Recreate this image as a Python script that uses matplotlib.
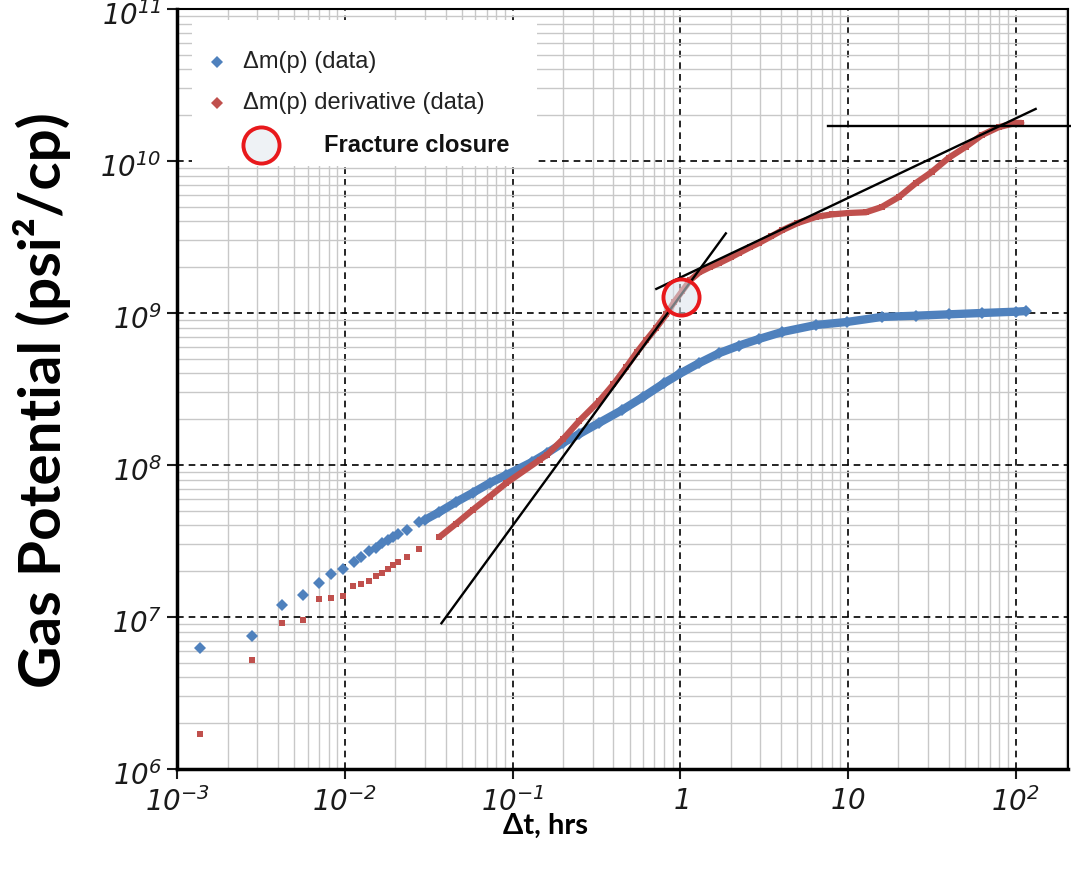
import matplotlib
matplotlib.use("Agg")  # headless
import matplotlib.pyplot as plt
import matplotlib.transforms as mtransforms
import numpy as np
from matplotlib.patches import Rectangle
from matplotlib.ticker import FixedFormatter, FixedLocator, LogLocator, NullFormatter

# --- data -----------------------------------------------------------------
# delta m(p) (blue diamonds)
dm_t = [1.37e-3, 2.78e-3, 4.2e-3, 5.6e-3, 7.0e-3, 8.3e-3, 9.7e-3, 1.13e-2,
        1.25e-2, 1.39e-2, 1.53e-2, 1.67e-2, 1.81e-2, 1.95e-2, 2.09e-2, 2.34e-2,
        2.78e-2, 3.0e-2, 3.67e-2, 4.6e-2, 5.78e-2, 7.3e-2, 9.2e-2, 0.1315,
        0.161, 0.2, 0.25, 0.33, 0.45, 0.6, 0.8, 1.0, 1.3, 1.71, 2.24, 2.95,
        4.05, 6.45, 9.86, 15.9, 25.4, 39.9, 62.8, 100.0, 115.0]
dm_val = [6.26e6, 7.5e6, 1.2e7, 1.40e7, 1.67e7, 1.91e7, 2.07e7, 2.3e7,
          2.5e7, 2.7e7, 2.85e7, 3.05e7, 3.2e7, 3.35e7, 3.5e7, 3.74e7,
          4.2e7, 4.35e7, 4.91e7, 5.7e7, 6.55e7, 7.6e7, 8.6e7, 1.05e8,
          1.2e8, 1.40e8, 1.6e8, 1.9e8, 2.3e8, 2.8e8, 3.45e8, 4.0e8, 4.69e8,
          5.45e8, 6.1e8, 6.75e8, 7.5e8, 8.34e8, 8.73e8, 9.42e8, 9.6e8,
          9.8e8, 1.0e9, 1.02e9, 1.03e9]

# delta m(p) derivative (red)
der_t = [1.38e-3, 2.78e-3, 4.24e-3, 5.6e-3, 7.0e-3, 8.3e-3, 9.7e-3, 1.12e-2,
         1.25e-2, 1.39e-2, 1.53e-2, 1.67e-2, 1.81e-2, 1.95e-2, 2.09e-2,
         2.34e-2, 2.78e-2, 3.67e-2, 4.6e-2, 5.78e-2, 7.3e-2, 9.2e-2, 0.145,
         0.161, 0.2, 0.25, 0.33, 0.4, 0.477, 0.55, 0.628, 0.72, 0.826, 0.92,
         1.03, 1.15, 1.3, 1.5, 1.71, 2.0, 2.24, 2.6, 2.95, 3.5, 4.05, 5.0,
         6.45, 8.0, 10.1, 12.8, 15.9, 20.1, 25.4, 31.6, 39.9, 50.4, 62.8,
         79.2, 100.0, 108.0]
der_val = [1.69e6, 5.2e6, 9.2e6, 9.55e6, 1.31e7, 1.34e7, 1.37e7, 1.6e7,
           1.66e7, 1.72e7, 1.85e7, 1.95e7, 2.07e7, 2.2e7, 2.3e7,
           2.48e7, 2.8e7, 3.36e7, 4.1e7, 5.06e7, 6.2e7, 7.62e7, 1.08e8,
           1.17e8, 1.48e8, 1.95e8, 2.65e8, 3.4e8, 4.41e8, 5.5e8, 6.64e8,
           8.0e8, 9.8e8, 1.18e9, 1.40e9, 1.65e9, 1.85e9, 2.0e9, 2.13e9,
           2.32e9, 2.48e9, 2.7e9, 2.89e9, 3.2e9, 3.5e9, 3.9e9, 4.29e9,
           4.45e9, 4.55e9, 4.6e9, 4.98e9, 5.79e9, 7.16e9, 8.47e9, 1.05e10,
           1.24e10, 1.48e10, 1.67e10, 1.78e10, 1.78e10]

# straight-line interpretations (end points)
steep_t = [0.0377, 1.87]
steep_val = [9.1e6, 3.34e9]
half_t = [0.72, 131.5]
half_val = [1.44e9, 2.2e10]
flat_t = [7.64, 210.0]
flat_val = [1.71e10, 1.71e10]

closure_t = [1.01]
closure_val = [1.28e9]

x_ticks = [1e-3, 1e-2, 1e-1, 1, 10, 100]
x_labels = ["$10^{-3}$", "$10^{-2}$", "$10^{-1}$", "$1$", "$10$", "$10^{2}$"]
y_ticks = [1e6, 1e7, 1e8, 1e9, 1e10, 1e11]
y_labels = ["$10^{6}$", "$10^{7}$", "$10^{8}$", "$10^{9}$", "$10^{10}$", "$10^{11}$"]

BLUE = "#4f81bd"
RED = "#c0504d"
RING = "#e8191c"

plt.rcParams["mathtext.fontset"] = "custom"
plt.rcParams["mathtext.rm"] = "DejaVu Sans:italic"
plt.rcParams["mathtext.it"] = "DejaVu Sans:italic"

fig = plt.figure(figsize=(10.71, 8.72), dpi=100)
ax = fig.add_axes([0.1653, 0.1181, 0.8319, 0.8716])
ax.set_xscale("log")
ax.set_yscale("log")
ax.set_xlim(1e-3, 205)
ax.set_ylim(1e6, 1e11)

# grid: solid grey minors, dashed black decades
ax.xaxis.set_major_locator(FixedLocator(x_ticks))
ax.xaxis.set_major_formatter(FixedFormatter(x_labels))
ax.yaxis.set_major_locator(FixedLocator(y_ticks))
ax.yaxis.set_major_formatter(FixedFormatter(y_labels))
for axis in (ax.xaxis, ax.yaxis):
    axis.set_minor_locator(LogLocator(base=10, subs=np.arange(2, 10)))
    axis.set_minor_formatter(NullFormatter())
ax.grid(which="minor", color="#c8c8c8", lw=1.0, ls="-", zorder=0)
ax.grid(which="major", color="black", lw=1.2, ls=(0, (4, 3)), zorder=1)
ax.tick_params(which="minor", length=0)
ax.tick_params(which="major", length=7, width=1.5, direction="out",
               labelsize=20, colors="#1a1a1a")
ax.tick_params(axis="y", pad=4)
ax.tick_params(axis="x", pad=6)
for side in ("left", "bottom"):
    ax.spines[side].set_linewidth(2.5)
for side in ("top", "right"):
    ax.spines[side].set_linewidth(1.5)

# nudge the y labels down so the exponent of 10^11 stays on the canvas
shift = mtransforms.ScaledTranslation(0, -3 / 72, fig.dpi_scale_trans)
for lab in ax.get_yticklabels():
    lab.set_transform(lab.get_transform() + shift)

# data: thick trace where samples are dense, markers everywhere
dm_t_arr, dm_arr = np.array(dm_t), np.array(dm_val)
der_t_arr, der_arr = np.array(der_t), np.array(der_val)
dense = dm_t_arr >= 0.03
ax.plot(dm_t_arr[dense], dm_arr[dense], color=BLUE, lw=6, zorder=4,
        solid_capstyle="round")
ax.plot(dm_t_arr, dm_arr, "D", color=BLUE, ms=6, mew=0, zorder=4)
dense = der_t_arr >= 0.03
ax.plot(der_t_arr[dense], der_arr[dense], color=RED, lw=4.5, zorder=5,
        solid_capstyle="round")
ax.plot(der_t_arr, der_arr, "s", color=RED, ms=4.2, mew=0, zorder=5)

# interpretation lines
ax.plot(steep_t, steep_val, color="black", lw=1.7, zorder=6)
ax.plot(half_t, half_val, color="black", lw=1.7, zorder=6)
ax.plot(flat_t, flat_val, color="black", lw=1.7, zorder=6, clip_on=False)

ax.plot(closure_t, closure_val, "o", ms=26, mfc=(0.86, 0.89, 0.92, 0.55),
        mec=RING, mew=2.8, zorder=7)

# legend, drawn by hand so the ring can sit off the diamond column
ax.add_patch(Rectangle((0.017, 0.793), 0.387, 0.193, transform=ax.transAxes,
                       facecolor="white", edgecolor="none", zorder=3))
leg_font = ["Liberation Sans", "DejaVu Sans"]
ax.plot([0.045], [0.930], "D", color=BLUE, ms=6, mew=0, transform=ax.transAxes, zorder=4)
ax.text(0.074, 0.930, "Δm(p) (data)", transform=ax.transAxes, va="center",
        fontsize=17, family=leg_font, color="#222222", zorder=4)
ax.plot([0.045], [0.876], "D", color=RED, ms=6, mew=0, transform=ax.transAxes, zorder=4)
ax.text(0.074, 0.876, "Δm(p) derivative (data)", transform=ax.transAxes,
        va="center", fontsize=17, family=leg_font, color="#222222", zorder=4)
ax.plot([0.094], [0.821], "o", ms=26, mfc="#eef2f5", mec=RING, mew=2.8,
        transform=ax.transAxes, zorder=4)
ax.text(0.165, 0.821, "Fracture closure", transform=ax.transAxes, va="center",
        fontsize=17, fontweight="bold", family=leg_font, color="#111111", zorder=4)

label_font = ["Lato", "DejaVu Sans"]
fig.text(0.039, 0.541, "Gas Potential (psi²/cp)", rotation=90, ha="center",
         va="center", fontsize=42, fontweight="bold", family=label_font)
fig.text(0.509, 0.053, "Δt, hrs", ha="center", va="center", fontsize=21,
         fontweight="bold", family=label_font)

fig.savefig("out.png", dpi=100)
